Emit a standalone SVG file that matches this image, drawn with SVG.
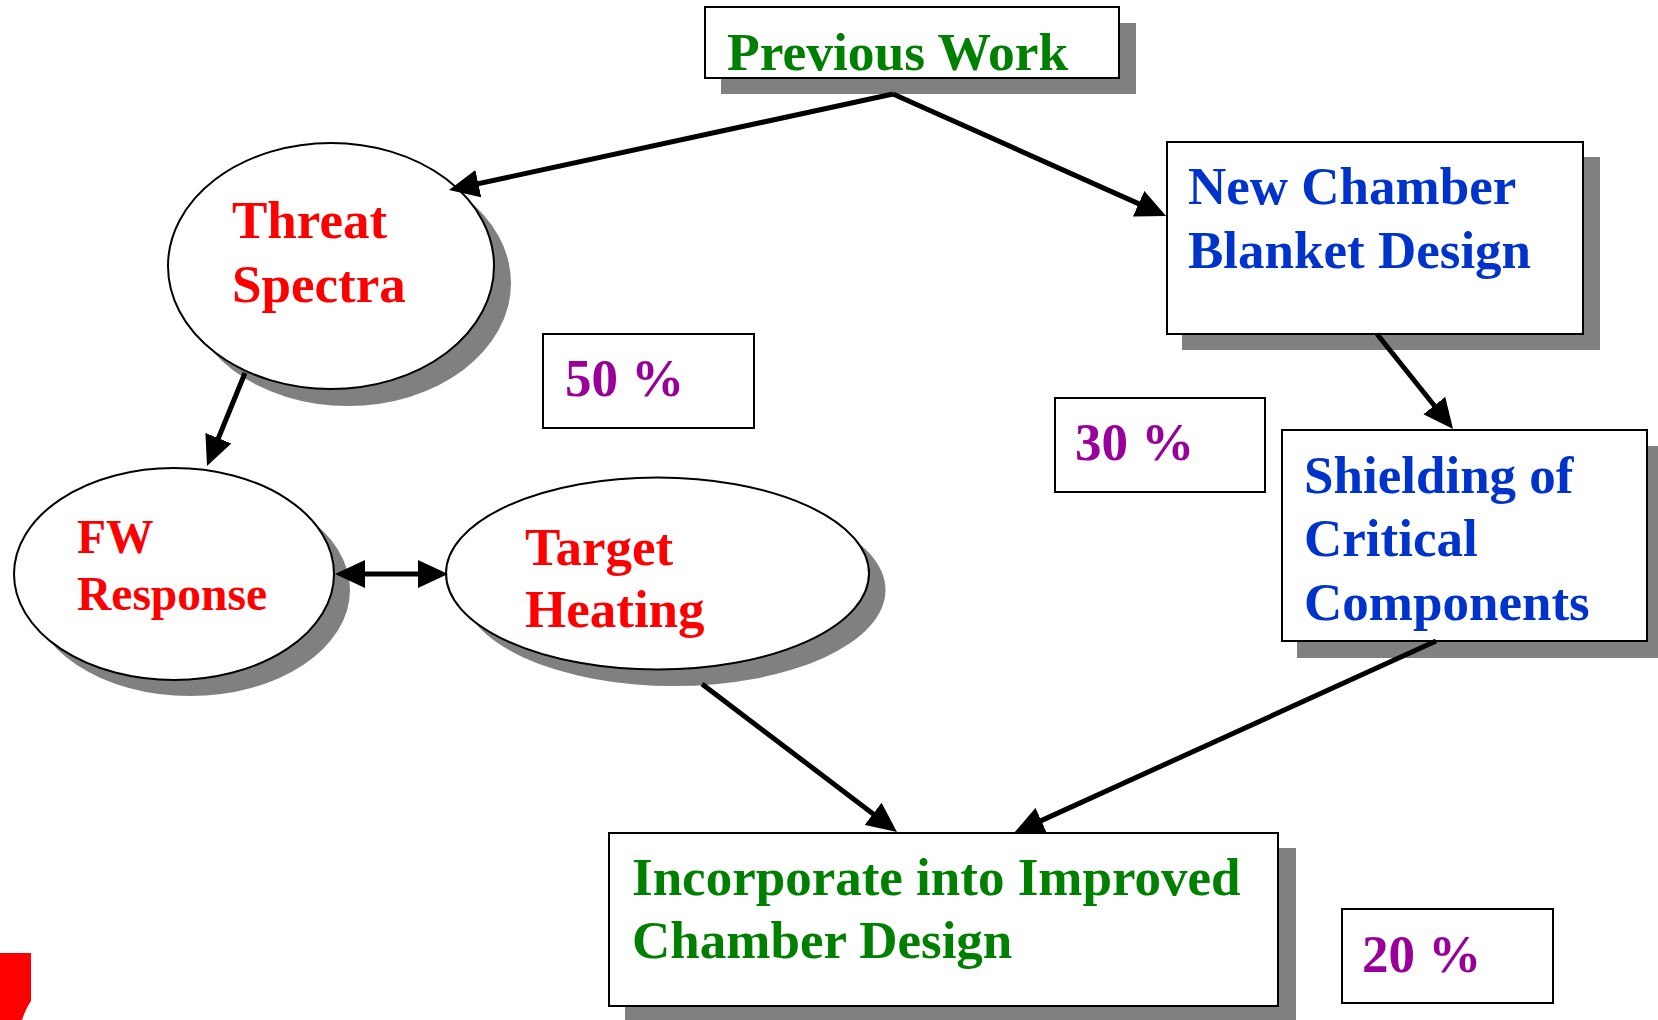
<svg xmlns="http://www.w3.org/2000/svg" width="1658" height="1020" viewBox="0 0 1658 1020">
  <style>
    .shadow { fill: #808080; stroke: none; }
    .box { fill: #ffffff; stroke: #000000; stroke-width: 2; }
    .t { font-family: "Liberation Serif", "Times New Roman", serif; font-weight: bold; font-size: 53px; }
    .green { fill: #008000; }
    .red { fill: #ff0000; }
    .blue { fill: #0033cc; }
    .purple { fill: #990099; }
    .conn { stroke: #000000; stroke-width: 5; fill: none; }
  </style>
  <defs>
    <marker id="ah" markerUnits="userSpaceOnUse" markerWidth="30" markerHeight="28" refX="20" refY="14" orient="auto-start-reverse">
      <path d="M0,0 L30,14 L0,28 Z" fill="#000000"/>
    </marker>
  </defs>
  <rect width="1658" height="1020" fill="#ffffff"/>

  <g id="previous-work">
    <rect class="shadow" x="721" y="23" width="415" height="71"/>
    <rect class="box" x="705" y="7" width="414" height="71"/>
    <text class="t green" x="727" y="70" style="font-size:53.5px">Previous Work</text>
  </g>

  <g id="threat-spectra">
    <ellipse class="shadow" cx="348" cy="283" rx="163" ry="123"/>
    <ellipse class="box" cx="331" cy="266" rx="163" ry="123"/>
    <text class="t red" x="232" y="238">Threat</text>
    <text class="t red" x="232" y="302">Spectra</text>
  </g>

  <g id="fw-response">
    <ellipse class="shadow" cx="190" cy="590" rx="160" ry="106"/>
    <ellipse class="box" cx="174" cy="574" rx="160" ry="106"/>
    <text class="t red" x="77" y="553" style="font-size:47.5px">FW</text>
    <text class="t red" x="77" y="610" style="font-size:47.5px">Response</text>
  </g>

  <g id="target-heating">
    <ellipse class="shadow" cx="674" cy="590" rx="211.5" ry="96"/>
    <ellipse class="box" cx="657.5" cy="573.5" rx="211.5" ry="96"/>
    <text class="t red" x="525" y="565">Target</text>
    <text class="t red" x="525" y="627">Heating</text>
  </g>

  <g id="new-chamber">
    <rect class="shadow" x="1182" y="157" width="418" height="193"/>
    <rect class="box" x="1167" y="142" width="416" height="192"/>
    <text class="t blue" x="1188" y="204">New Chamber</text>
    <text class="t blue" x="1188" y="268">Blanket Design</text>
  </g>

  <g id="shielding">
    <rect class="shadow" x="1297" y="446" width="365" height="212"/>
    <rect class="box" x="1282" y="430" width="365" height="211"/>
    <text class="t blue" x="1304" y="493">Shielding of</text>
    <text class="t blue" x="1304" y="556">Critical</text>
    <text class="t blue" x="1304" y="620">Components</text>
  </g>

  <g id="incorporate">
    <rect class="shadow" x="625" y="848" width="671" height="176"/>
    <rect class="box" x="609" y="833" width="669" height="173"/>
    <text class="t green" x="632" y="895">Incorporate into Improved</text>
    <text class="t green" x="632" y="958">Chamber Design</text>
  </g>

  <g id="pct-50">
    <rect class="box" x="543" y="334" width="211" height="94"/>
    <text class="t purple" x="565" y="396">50 %</text>
  </g>

  <g id="pct-30">
    <rect class="box" x="1055" y="398" width="210" height="94"/>
    <text class="t purple" x="1075" y="460">30 %</text>
  </g>

  <g id="pct-20">
    <rect class="box" x="1342" y="909" width="211" height="94"/>
    <text class="t purple" x="1362" y="972">20 %</text>
  </g>

  <path id="red-mark" d="M0,953 H31 V1001 Q26,1008 22,1020 H0 Z" fill="#ff0000"/>

  <g id="connectors">
    <line class="conn" x1="893" y1="94" x2="458.8" y2="187.9" marker-end="url(#ah)"/>
    <line class="conn" x1="893" y1="94" x2="1156.9" y2="211.9" marker-end="url(#ah)"/>
    <line class="conn" x1="245" y1="373" x2="210.8" y2="456.7" marker-end="url(#ah)"/>
    <line class="conn" x1="345" y1="574" x2="438" y2="574" marker-start="url(#ah)" marker-end="url(#ah)"/>
    <line class="conn" x1="702" y1="684" x2="889.0" y2="825.9" marker-end="url(#ah)"/>
    <line class="conn" x1="1436" y1="641" x2="1023.1" y2="828.9" marker-end="url(#ah)"/>
    <line class="conn" x1="1377" y1="334" x2="1446.8" y2="421.2" marker-end="url(#ah)"/>
  </g>
</svg>
